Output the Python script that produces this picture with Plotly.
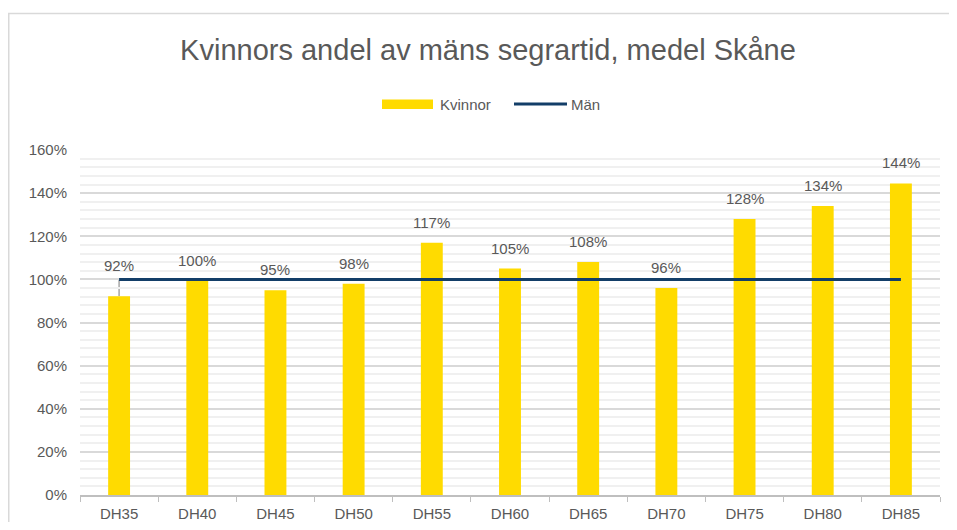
import plotly.graph_objects as go

categories = ["DH35", "DH40", "DH45", "DH50", "DH55", "DH60", "DH65", "DH70", "DH75", "DH80", "DH85"]
kvinnor = [0.922, 0.993, 0.95, 0.98, 1.17, 1.05, 1.08, 0.96, 1.28, 1.34, 1.445]
kvinnor_labels = ["92%", "100%", "95%", "98%", "117%", "105%", "108%", "96%", "128%", "134%", "144%"]
man = [1.0] * len(categories)
lifted_labels = ["DH35"]  # label moved above the Män line, with leader line

YELLOW = "#FFDB00"
NAVY = "#133E68"
TXT = "#595959"

# figure geometry (page has an 8px body margin)
OFF = 8
W, H = 941, 514
ml, mr, mt, mb = 72, 9, 142, 27
pw, ph = W - ml - mr, H - mt - mb


def px(xpage):
    return (xpage - OFF - ml) / pw


def py(ypage):
    return (H - mb - (ypage - OFF)) / ph


fig = go.Figure()
fig.add_trace(go.Bar(x=categories, y=kvinnor, name="Kvinnor", marker_color=YELLOW,
                     marker_line_width=0, showlegend=False))
fig.add_trace(go.Scatter(x=categories, y=man, name="Män", mode="lines",
                         line=dict(color=NAVY, width=3), showlegend=False))

annotations = []
shapes = []
for c, v, lab, m in zip(categories, kvinnor, kvinnor_labels, man):
    lifted = c in lifted_labels
    y = max(v, m) if lifted else v
    annotations.append(dict(x=c, y=y, text=lab, showarrow=False, yanchor="bottom",
                            yshift=3 if lifted else 10, font=dict(size=15, color=TXT)))
    if lifted:
        shapes.append(dict(type="line", xref="x", yref="y", x0=c, x1=c, y0=v, y1=m,
                           line=dict(color="#A6A6A6", width=1.5), layer="below"))

# chart frame
shapes.append(dict(type="rect", xref="paper", yref="paper",
                   x0=(0.75 - ml) / pw, x1=(W + 20 - ml) / pw,
                   y0=-(mb + 20) / ph, y1=py(13.5),
                   line=dict(color="#D9D9D9", width=1.5), layer="below"))

# legend (drawn manually to match the wide swatches)
shapes.append(dict(type="rect", xref="paper", yref="paper", x0=px(382), x1=px(433),
                   y0=py(109), y1=py(99.5), fillcolor=YELLOW, line=dict(width=0)))
shapes.append(dict(type="line", xref="paper", yref="paper", x0=px(514), x1=px(567),
                   y0=py(104), y1=py(104), line=dict(color=NAVY, width=3)))
annotations.append(dict(xref="paper", yref="paper", x=px(438), y=py(104), text="Kvinnor",
                        showarrow=False, xanchor="left", yanchor="middle",
                        font=dict(size=15, color=TXT)))
annotations.append(dict(xref="paper", yref="paper", x=px(569), y=py(104), text="Män",
                        showarrow=False, xanchor="left", yanchor="middle",
                        font=dict(size=15, color=TXT)))

fig.update_layout(
    width=W, height=H,
    margin=dict(l=ml, r=mr, t=mt, b=mb, autoexpand=False),
    paper_bgcolor="white", plot_bgcolor="white",
    font=dict(family="Liberation Sans, Arial, sans-serif", color=TXT, size=15),
    title=dict(text="Kvinnors andel av mäns segrartid, medel Skåne", x=px(488), xref="paper",
               xanchor="center", y=1 - (50 - OFF) / H, yanchor="middle",
               font=dict(size=29, color=TXT)),
    bargap=0.72,
    showlegend=False,
    annotations=annotations,
    shapes=shapes,
)
fig.update_yaxes(range=[0, 1.6], dtick=0.2, tickformat=".0%", showgrid=True,
                 gridcolor="#D9D9D9", gridwidth=1.5, zeroline=False, automargin=False,
                 ticks="", ticklabelstandoff=12, tickfont=dict(size=15, color=TXT),
                 minor=dict(dtick=0.04, showgrid=True, gridcolor="#F0F0F0", gridwidth=1.5))
fig.update_xaxes(showgrid=False, showline=True, linecolor="#BFBFBF", linewidth=1.5,
                 ticks="outside", tickson="boundaries", ticklen=5, tickcolor="#BFBFBF",
                 automargin=False, ticklabelstandoff=4, tickfont=dict(size=15, color=TXT))

fig.write_html("out.html")
